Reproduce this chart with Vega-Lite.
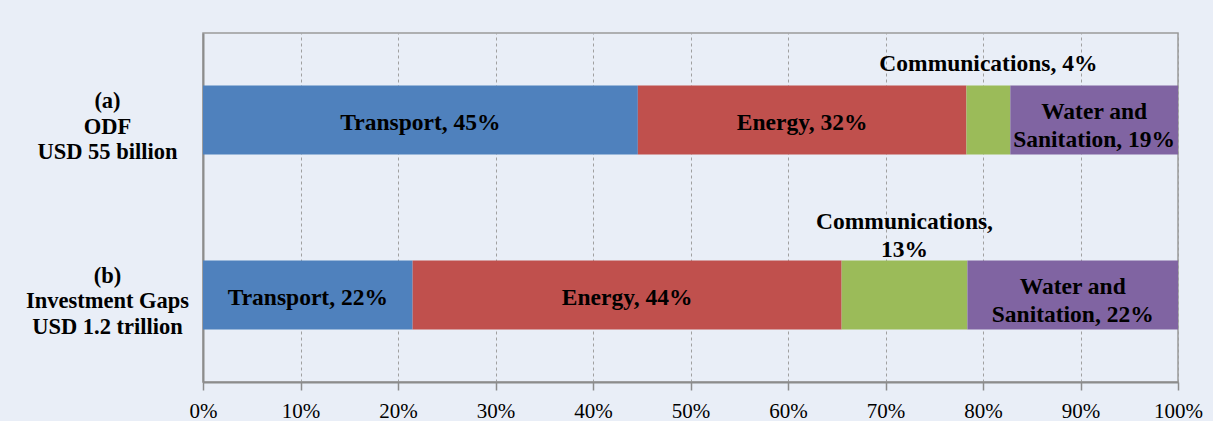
{
  "$schema": "https://vega.github.io/schema/vega-lite/v6.json",
  "width": 975,
  "height": 349,
  "autosize": {"type": "none"},
  "padding": {"left": 203, "top": 33, "right": 35, "bottom": 39},
  "background": "#E9EEF7",
  "config": {
    "font": "Liberation Serif",
    "view": {"stroke": "#9a9a9a", "strokeWidth": 1.5, "fill": "#E9EEF7"},
    "axisY": {
      "labelFontSize": 22.5,
      "labelFontWeight": "bold",
      "labelColor": "#000000",
      "labelAlign": "center",
      "labelBaseline": "middle",
      "labelPadding": 96,
      "labelLineHeight": 25.5,
      "labelOffset": -19,
      "labelLimit": 400,
      "labelExpr": "split(datum.label, '\\n')",
      "ticks": false,
      "grid": false,
      "domainColor": "#8c8c8c",
      "domainWidth": 2,
      "title": null
    },
    "axisX": {
      "labelFontSize": 21,
      "labelColor": "#000000",
      "labelFlush": false,
      "labelPadding": 10,
      "tickColor": "#8c8c8c",
      "tickSize": 8,
      "tickWidth": 1.5,
      "domainColor": "#8c8c8c",
      "domainWidth": 2,
      "grid": true,
      "gridColor": "#a0a0a0",
      "gridDash": [3, 3],
      "gridWidth": 1,
      "title": null
    }
  },
  "data": {
    "values": [
      {"group": "(a)\nODF\nUSD 55 billion", "sector": "Transport", "seq": 1, "share": 44.6, "label": "Transport, 45%"},
      {"group": "(a)\nODF\nUSD 55 billion", "sector": "Energy", "seq": 2, "share": 33.7, "label": "Energy, 32%"},
      {"group": "(a)\nODF\nUSD 55 billion", "sector": "Communications", "seq": 3, "share": 4.5, "label": "Communications, 4%"},
      {"group": "(a)\nODF\nUSD 55 billion", "sector": "Water and Sanitation", "seq": 4, "share": 17.2, "label": "Water and\nSanitation, 19%"},
      {"group": "(b)\nInvestment Gaps\nUSD 1.2 trillion", "sector": "Transport", "seq": 1, "share": 21.5, "label": "Transport, 22%"},
      {"group": "(b)\nInvestment Gaps\nUSD 1.2 trillion", "sector": "Energy", "seq": 2, "share": 44.0, "label": "Energy, 44%"},
      {"group": "(b)\nInvestment Gaps\nUSD 1.2 trillion", "sector": "Communications", "seq": 3, "share": 12.9, "label": "Communications,\n13%"},
      {"group": "(b)\nInvestment Gaps\nUSD 1.2 trillion", "sector": "Water and Sanitation", "seq": 4, "share": 21.6, "label": "Water and\nSanitation, 22%"}
    ]
  },
  "encoding": {
    "y": {
      "field": "group",
      "type": "nominal",
      "sort": null,
      "scale": {"paddingInner": 0.605, "paddingOuter": 0.3},
      "title": null
    },
    "order": {"field": "seq", "type": "quantitative"}
  },
  "layer": [
    {
      "mark": {"type": "bar"},
      "encoding": {
        "x": {
          "field": "share", "type": "quantitative", "stack": "zero",
          "scale": {"domain": [0, 100]}, "title": null,
          "axis": {"values": [0, 10, 20, 30, 40, 50, 60, 70, 80, 90, 100], "labelExpr": "datum.value + '%'"}
        },
        "color": {
          "field": "sector",
          "type": "nominal",
          "scale": {
            "domain": ["Transport", "Energy", "Communications", "Water and Sanitation"],
            "range": ["#4F81BD", "#C0504D", "#9BBB59", "#8064A2"]
          },
          "legend": null
        }
      }
    },
    {
      "mark": {"type": "text", "fontWeight": "bold", "fontSize": 23.5, "lineBreak": "\n", "lineHeight": 28, "baseline": "middle", "align": "center", "dy": 3, "color": "#000000"},
      "encoding": {
        "x": {"field": "share", "type": "quantitative", "stack": "zero", "bandPosition": 0.5, "title": null, "axis": {"values": [0, 10, 20, 30, 40, 50, 60, 70, 80, 90, 100], "labelExpr": "datum.value + '%'"}},
        "detail": {"field": "sector"},
        "text": {"condition": {"test": "datum.sector === 'Transport' || datum.sector === 'Energy'", "field": "label"}, "value": ""}
      }
    },
    {
      "mark": {"type": "text", "fontWeight": "bold", "fontSize": 23.5, "lineBreak": "\n", "lineHeight": 28, "baseline": "middle", "align": "center", "dy": -8, "color": "#000000"},
      "encoding": {
        "x": {"field": "share", "type": "quantitative", "stack": "zero", "bandPosition": 0.5, "title": null, "axis": {"values": [0, 10, 20, 30, 40, 50, 60, 70, 80, 90, 100], "labelExpr": "datum.value + '%'"}},
        "detail": {"field": "sector"},
        "text": {"condition": {"test": "datum.sector === 'Water and Sanitation'", "field": "label"}, "value": ""}
      }
    },
    {
      "mark": {"type": "text", "fontWeight": "bold", "fontSize": 23.5, "lineBreak": "\n", "lineHeight": 28, "baseline": "middle", "align": "center", "dy": -56, "color": "#000000"},
      "encoding": {
        "x": {"field": "share", "type": "quantitative", "stack": "zero", "bandPosition": 0.5, "title": null, "axis": {"values": [0, 10, 20, 30, 40, 50, 60, 70, 80, 90, 100], "labelExpr": "datum.value + '%'"}},
        "detail": {"field": "sector"},
        "text": {"condition": {"test": "datum.sector === 'Communications' && indexof(datum.label, '\\n') < 0", "field": "label"}, "value": ""}
      }
    },
    {
      "mark": {"type": "text", "fontWeight": "bold", "fontSize": 23.5, "lineBreak": "\n", "lineHeight": 28, "baseline": "middle", "align": "center", "dy": -73, "color": "#000000"},
      "encoding": {
        "x": {"field": "share", "type": "quantitative", "stack": "zero", "bandPosition": 0.5, "title": null, "axis": {"values": [0, 10, 20, 30, 40, 50, 60, 70, 80, 90, 100], "labelExpr": "datum.value + '%'"}},
        "detail": {"field": "sector"},
        "text": {"condition": {"test": "datum.sector === 'Communications' && indexof(datum.label, '\\n') >= 0", "field": "label"}, "value": ""}
      }
    }
  ]
}
